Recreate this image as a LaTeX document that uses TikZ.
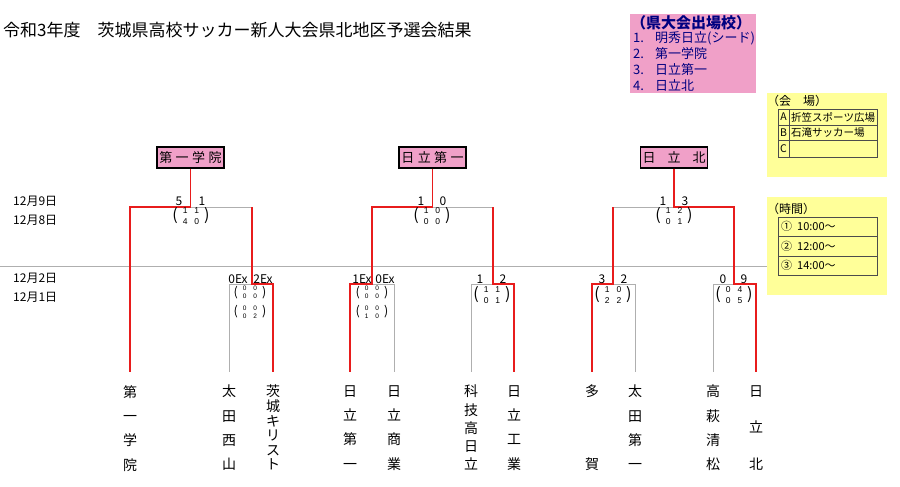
\documentclass[tikz,border=0pt]{standalone}
\usepackage{fontspec}
\setmainfont{Noto Sans CJK JP}
\newfontfamily\digf{Liberation Sans}
\definecolor{myred}{RGB}{232,28,28}
\definecolor{mygray}{RGB}{175,175,175}
\definecolor{mypink}{RGB}{240,160,200}
\definecolor{myyellow}{RGB}{255,255,153}
\definecolor{mynavy}{RGB}{0,0,128}
% #1 paren size, #2 digit size, #3 row skip, #4 raise, #5-#8 digits
\newcommand\pgen[8]{%
  {\fontsize{#1}{#1}\selectfont(}\kern5pt%
  \raisebox{#4}{\digf\fontsize{#2}{#3}\selectfont\begin{tabular}{@{}c@{\hspace{7pt}}c@{}}#5&#6\\#7&#8\end{tabular}}%
  \kern5pt{\fontsize{#1}{#1}\selectfont)}}
\newcommand\pbig[4]{\pgen{16}{8.5}{11}{2.4pt}{#1}{#2}{#3}{#4}}
\newcommand\psmall[4]{\pgen{12.5}{6.5}{8.2}{1.5pt}{#1}{#2}{#3}{#4}}
\newcommand\tsz[1]{\lineskiplimit=-100pt\relax\fontsize{14}{#1}\selectfont}
\tikzset{
  redl/.style={draw=myred,line width=1.4pt},
  grayl/.style={draw=mygray,line width=1pt},
  wbox/.style={draw=black,line width=1.4pt,fill=mypink,minimum width=67pt,minimum height=21pt,inner sep=0pt,font=\fontsize{13}{13}\selectfont},
  team/.style={anchor=north,inner sep=0pt,align=center,font=\tsz{#1}},
  sc/.style={inner sep=0pt,font=\fontsize{12}{12}\selectfont},
  ps/.style={inner sep=0pt},
  lbl/.style={anchor=west,inner sep=0pt},
  tbl/.style={draw=black!70,line width=0.7pt}
}
\begin{document}
\begin{tikzpicture}[x=1pt,y=-1pt]
\useasboundingbox (0,0) rectangle (900,487);
% title
\node[lbl,font=\fontsize{17}{17}\selectfont] (title) at (3,30) {令和3年度　茨城県高校サッカー新人大会県北地区予選会結果};
% dates
\node[lbl,font=\fontsize{12}{12}\selectfont] (d1) at (13,201) {12月9日};
\node[lbl,font=\fontsize{12}{12}\selectfont] (d2) at (13,220) {12月8日};
\node[lbl,font=\fontsize{12}{12}\selectfont] (d3) at (13,278) {12月2日};
\node[lbl,font=\fontsize{12}{12}\selectfont] (d4) at (13,297) {12月1日};
% separator
\draw[grayl] (0,266) -- (767,266);
% legend
\node[fill=mypink,minimum width=126pt,minimum height=79pt,anchor=north west,inner sep=0pt] (leg) at (630,14) {};
\node[lbl,font=\fontsize{15}{15}\selectfont\bfseries,text=mynavy] (legh) at (631,23) {（県大会出場校）};
\node[lbl,font=\fontsize{13}{13}\selectfont,text=mynavy] (leg1) at (633,38.5) {\makebox[22pt][l]{1.}明秀日立(シード)};
\node[lbl,font=\fontsize{13}{13}\selectfont,text=mynavy] (leg2) at (633,54) {\makebox[22pt][l]{2.}第一学院};
\node[lbl,font=\fontsize{13}{13}\selectfont,text=mynavy] (leg3) at (633,70) {\makebox[22pt][l]{3.}日立第一};
\node[lbl,font=\fontsize{13}{13}\selectfont,text=mynavy] (leg4) at (633,85.5) {\makebox[22pt][l]{4.}日立北};
% venue box
\node[fill=myyellow,minimum width=120pt,minimum height=84pt,anchor=north west,inner sep=0pt] (ven) at (767,93) {};
\node[lbl,font=\fontsize{12}{12}\selectfont] (venh) at (767,101) {（会　場）};
\draw[tbl] (778,109) rectangle (877,157);
\draw[tbl] (778,125) -- (877,125) (778,140.5) -- (877,140.5) (789,109) -- (789,157);
\node[font=\fontsize{10.5}{10.5}\selectfont,inner sep=0pt] (va) at (783.5,117) {A};
\node[lbl,font=\fontsize{10.5}{10.5}\selectfont] (vat) at (791,117) {折笠スポーツ広場};
\node[font=\fontsize{10.5}{10.5}\selectfont,inner sep=0pt] (vb) at (783.5,133) {B};
\node[lbl,font=\fontsize{10.5}{10.5}\selectfont] (vbt) at (791,133) {石滝サッカー場};
\node[font=\fontsize{10.5}{10.5}\selectfont,inner sep=0pt] (vc) at (783.5,148.5) {C};
% time box
\node[fill=myyellow,minimum width=120pt,minimum height=98pt,anchor=north west,inner sep=0pt] (tim) at (767,197) {};
\node[lbl,font=\fontsize{12}{12}\selectfont] (timh) at (767,209) {（時間）};
\draw[tbl] (778,217) rectangle (877,275);
\draw[tbl] (778,236.5) -- (877,236.5) (778,256) -- (877,256);
\node[lbl,font=\fontsize{11}{11}\selectfont] (ti1) at (781,226.5) {①\hspace{5pt}10:00〜};
\node[lbl,font=\fontsize{11}{11}\selectfont] (ti2) at (781,246) {②\hspace{5pt}12:00〜};
\node[lbl,font=\fontsize{11}{11}\selectfont] (ti3) at (781,265.5) {③\hspace{5pt}14:00〜};
% winner boxes
\node[wbox] (w1) at (190.5,157.5) {第\hspace{3.5pt}一\hspace{3.5pt}学\hspace{3.5pt}院};
\node[wbox] (w2) at (432.5,157.5) {日\hspace{3.5pt}立\hspace{3.5pt}第\hspace{3.5pt}一};
\node[wbox] (w3) at (674,157.5) {日\hspace{12pt}立\hspace{12pt}北};
% teams
\node[team=24.33] (t1) at (130,385) {\vphantom{日}第\\一\\学\\院};
\node[team=24.33] (t2) at (229,385) {\vphantom{日}太\\田\\西\\山};
\node[team=14.6] (t3) at (273,385) {\vphantom{日}茨\\城\\キ\\リ\\ス\\ト};
\node[team=24.33] (t4) at (350,385) {\vphantom{日}日\\立\\第\\一};
\node[team=24.33] (t5) at (394,385) {\vphantom{日}日\\立\\商\\業};
\node[team=18.25] (t6) at (471,385) {\vphantom{日}科\\技\\高\\日\\立};
\node[team=24.33] (t7) at (514,385) {\vphantom{日}日\\立\\工\\業};
\node[team=73] (t8) at (592,385) {\vphantom{日}多\\賀};
\node[team=24.33] (t9) at (635,385) {\vphantom{日}太\\田\\第\\一};
\node[team=24.33] (t10) at (713,385) {\vphantom{日}高\\萩\\清\\松};
\node[team=36.5] (t11) at (756,385) {\vphantom{日}日\\立\\北};
% junctions
\coordinate (j1) at (190.5,207); \coordinate (a1) at (130,207); \coordinate (b1) at (252,207);
\coordinate (s1) at (252,284); \coordinate (s1l) at (229,284); \coordinate (s1r) at (273,284);
\coordinate (j2) at (432.5,207); \coordinate (a2) at (372,207); \coordinate (b2) at (493,207);
\coordinate (s2) at (372,284); \coordinate (s2l) at (350,284); \coordinate (s2r) at (394,284);
\coordinate (s3) at (493,284); \coordinate (s3l) at (471,284); \coordinate (s3r) at (514,284);
\coordinate (j3) at (674,207); \coordinate (a3) at (613,207); \coordinate (b3) at (734,207);
\coordinate (s4) at (613,284); \coordinate (s4l) at (592,284); \coordinate (s4r) at (635,284);
\coordinate (s5) at (734,284); \coordinate (s5l) at (713,284); \coordinate (s5r) at (756,284);
% gray lines
\draw[grayl] (j1) -- (b1);
\draw[grayl] (s1) -- (s1l) -- ([yshift=13pt]t2.north);
\draw[grayl] (j2) -- (b2);
\draw[grayl] (s2) -- (s2r) -- ([yshift=13pt]t5.north);
\draw[grayl] (s3) -- (s3l) -- ([yshift=13pt]t6.north);
\draw[grayl] (j3) -- (a3);
\draw[grayl] (s4) -- (s4r) -- ([yshift=13pt]t9.north);
\draw[grayl] (s5) -- (s5l) -- ([yshift=13pt]t10.north);
% red lines
\draw[redl] (w1.south) -- (j1) -- (a1) -- ([yshift=13pt]t1.north);
\draw[redl] (b1) -- (s1) -- (s1r) -- ([yshift=13pt]t3.north);
\draw[redl] (w2.south) -- (j2) -- (a2) -- (s2) -- (s2l) -- ([yshift=13pt]t4.north);
\draw[redl] (b2) -- (s3) -- (s3r) -- ([yshift=13pt]t7.north);
\draw[redl] (w3.south) -- (j3) -- (b3) -- (s5) -- (s5r) -- ([yshift=13pt]t11.north);
\draw[redl] (a3) -- (s4) -- (s4l) -- ([yshift=13pt]t8.north);
% scores
\node[sc] (n1a) at (179,201) {5}; \node[sc] (n1b) at (202,201) {1};
\node[ps] (p1) at (191,216.5) {\pbig{1}{1}{4}{0}};
\node[sc] (n2a) at (238,279.5) {0Ex}; \node[sc] (n2b) at (263,279.5) {2Ex};
\node[ps] (p2) at (250,293) {\psmall{0}{0}{0}{0}};
\node[ps] (p2b) at (250,312.5) {\psmall{0}{0}{0}{2}};
\node[sc] (n3a) at (421,201) {1}; \node[sc] (n3b) at (443,201) {0};
\node[ps] (p3) at (432,216.5) {\pbig{1}{0}{0}{0}};
\node[sc] (n4a) at (362,279.5) {1Ex}; \node[sc] (n4b) at (385,279.5) {0Ex};
\node[ps] (p4) at (372,293) {\psmall{0}{0}{0}{0}};
\node[ps] (p4b) at (372,312.5) {\psmall{0}{0}{1}{0}};
\node[sc] (n5a) at (480,279.5) {1}; \node[sc] (n5b) at (503,279.5) {2};
\node[ps] (p5) at (492,295.5) {\pbig{1}{1}{0}{1}};
\node[sc] (n6a) at (663,201) {1}; \node[sc] (n6b) at (685,201) {3};
\node[ps] (p6) at (674,216.5) {\pbig{1}{2}{0}{1}};
\node[sc] (n7a) at (602,279.5) {3}; \node[sc] (n7b) at (624,279.5) {2};
\node[ps] (p7) at (613,295.5) {\pbig{1}{0}{2}{2}};
\node[sc] (n8a) at (723,279.5) {0}; \node[sc] (n8b) at (744,279.5) {9};
\node[ps] (p8) at (734,295.5) {\pbig{0}{4}{0}{5}};
\end{tikzpicture}
\end{document}
